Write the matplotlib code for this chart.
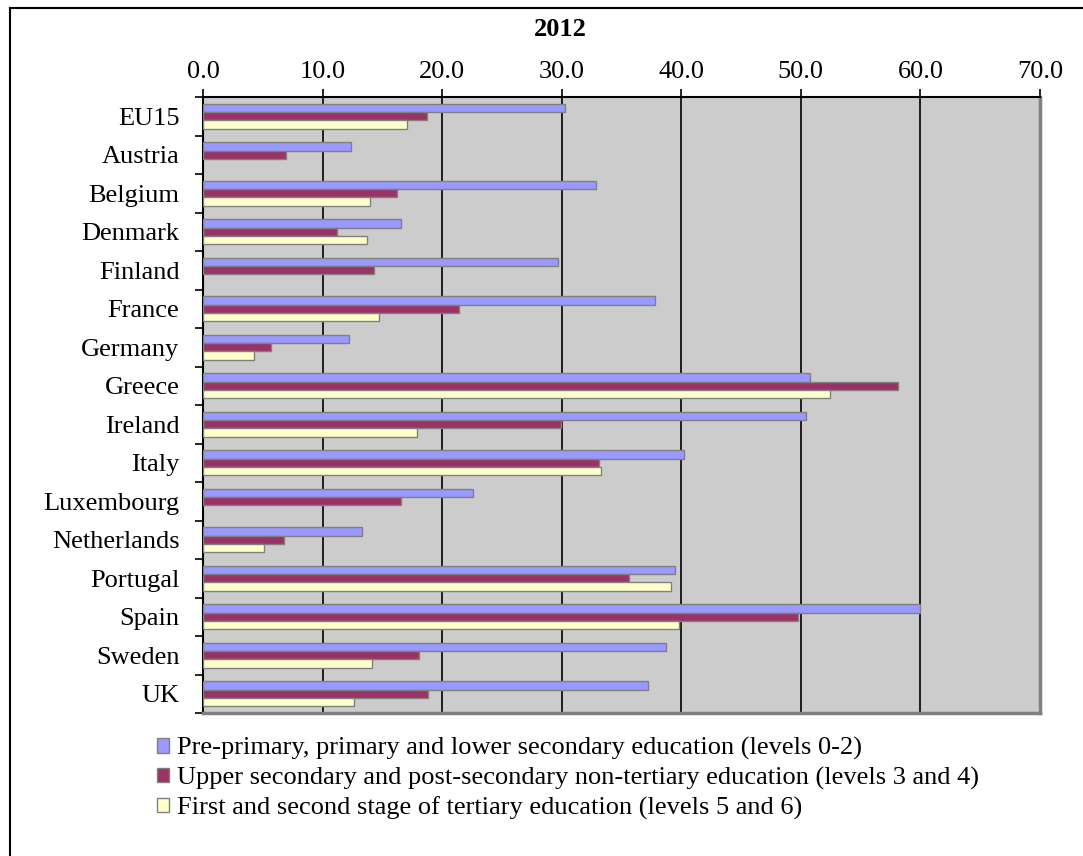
import matplotlib
matplotlib.use("Agg")
import matplotlib.pyplot as plt
from matplotlib.patches import Patch
from matplotlib.lines import Line2D
import numpy as np

plt.rcParams['font.family'] = ['Liberation Serif', 'DejaVu Serif']

# data
countries = ["EU15", "Austria", "Belgium", "Denmark", "Finland", "France", "Germany",
             "Greece", "Ireland", "Italy", "Luxembourg", "Netherlands", "Portugal",
             "Spain", "Sweden", "UK"]
low_edu = [30.3, 12.4, 32.9, 16.6, 29.7, 37.8, 12.2, 50.8, 50.4, 40.2, 22.6, 13.3,
           39.5, 60.0, 38.7, 37.2]
mid_edu = [18.7, 6.9, 16.2, 11.2, 14.3, 21.4, 5.7, 58.1, 29.9, 33.1, 16.6, 6.8,
           35.6, 49.8, 18.1, 18.8]
high_edu = [17.1, np.nan, 14.0, 13.7, np.nan, 14.7, 4.3, 52.4, 17.9, 33.3, np.nan, 5.1,
            39.1, 39.8, 14.1, 12.6]
series_names = ["Pre-primary, primary and lower secondary education (levels 0-2)",
                "Upper secondary and post-secondary non-tertiary education (levels 3 and 4)",
                "First and second stage of tertiary education (levels 5 and 6)"]
colors = ["#9999FF", "#993366", "#FFFFCC"]
xticks = [0, 10, 20, 30, 40, 50, 60, 70]

fs = 19

fig = plt.figure(figsize=(10.83, 8.56), dpi=100)
ax = fig.add_axes([203/1083, 1-713/856, (1040-203)/1083, (713-97)/856])
ax.set_facecolor("#CCCCCC")

y = np.arange(len(countries))
bh = 0.215
for i, vals in enumerate([low_edu, mid_edu, high_edu]):
    vals = np.array(vals, dtype=float)
    ok = ~np.isnan(vals)
    ax.barh(y[ok] + (i-1)*bh, vals[ok], height=bh, color=colors[i],
            edgecolor="#808080", linewidth=1, zorder=3)

ax.set_xlim(0, 70)
ax.set_ylim(len(countries)-0.5, -0.5)

ax.xaxis.tick_top()
ax.set_xticks(xticks)
ax.set_xticklabels([f"{v:.1f}" for v in xticks], fontsize=fs)
ax.tick_params(axis='x', direction='out', length=6, width=1.2, pad=4, colors='black')
for v in xticks[1:-1]:
    ax.axvline(v, color='black', linewidth=1.2, zorder=1)

# labels sit between the minor ticks that mark the category boundaries
ax.set_yticks(y)
ax.set_yticklabels(countries, fontsize=fs)
ax.tick_params(axis='y', which='major', length=0, pad=17)
ax.set_yticks(np.arange(len(countries)+1) - 0.5, minor=True)
ax.tick_params(axis='y', which='minor', direction='out', length=6, width=1.2)

ax.spines['top'].set_linewidth(1.5)
ax.spines['left'].set_linewidth(1.5)
ax.spines['right'].set_color("#808080")
ax.spines['right'].set_linewidth(2.5)
ax.spines['bottom'].set_color("#808080")
ax.spines['bottom'].set_linewidth(2.5)

fig.text(560/1083, 1-29/856, "2012", ha='center', va='center', fontsize=fs, fontweight='bold')

handles = [Patch(facecolor=c, edgecolor="#808080") for c in colors]
fig.legend(handles, series_names, loc='upper left', bbox_to_anchor=(157/1083, 1-737/856),
           frameon=False, fontsize=fs, handlelength=0.47, handleheight=0.47,
           handletextpad=0.28, labelspacing=0.25, borderpad=0, borderaxespad=0)

# outer frame (top and left edges)
fig.add_artist(Line2D([10/1083, 10/1083], [0, 1-8/856], color='black', linewidth=1.5))
fig.add_artist(Line2D([10/1083, 1], [1-8/856, 1-8/856], color='black', linewidth=1.5))

fig.savefig("out.png", dpi=100)
